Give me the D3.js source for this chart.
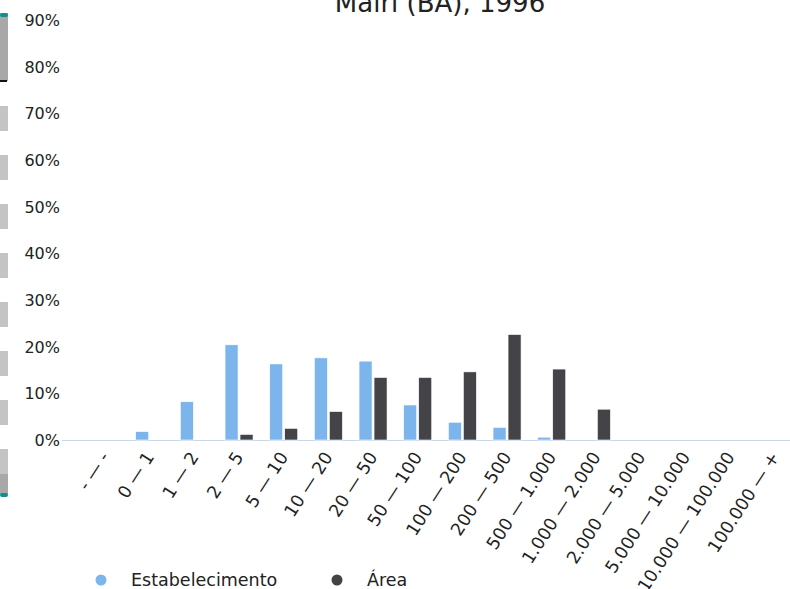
<!DOCTYPE html>
<html>
<head>
<meta charset="utf-8">
<script src="https://cdn.jsdelivr.net/npm/d3@7"></script>
<style>
  body { margin: 0; background: #fff; }
  svg { font-family: "DejaVu Sans", sans-serif; }
</style>
</head>
<body>
<div id="chart"></div>
<script>
var categories = ["- \u2014 -", "0 \u2014 1", "1 \u2014 2", "2 \u2014 5", "5 \u2014 10", "10 \u2014 20",
    "20 \u2014 50", "50 \u2014 100", "100 \u2014 200", "200 \u2014 500", "500 \u2014 1.000",
    "1.000 \u2014 2.000", "2.000 \u2014 5.000", "5.000 \u2014 10.000", "10.000 \u2014 100.000",
    "100.000 \u2014 +"];
var seriesNames = ["Estabelecimento", "\u00c1rea"];
var estabelecimento = [0, 0.018, 0.082, 0.204, 0.163, 0.176, 0.169, 0.075, 0.038, 0.027, 0.006, 0, 0, 0, 0, 0];
var area = [0, 0, 0, 0.012, 0.025, 0.061, 0.134, 0.134, 0.146, 0.226, 0.152, 0.066, 0, 0, 0, 0];
var yTicks = [0, 0.1, 0.2, 0.3, 0.4, 0.5, 0.6, 0.7, 0.8, 0.9];
var colors = ["#7cb5ec", "#434348"];

var width = 790, height = 589;

var svg = d3.select("#chart").append("svg")
    .attr("width", width)
    .attr("height", height);

// title (cut at the top like the original)
svg.append("text")
    .attr("x", 440)
    .attr("y", 12)
    .attr("text-anchor", "middle")
    .style("font-size", "26px")
    .style("fill", "#222")
    .text("Mairi (BA), 1996");

// left scrollbar remnant
var bar = svg.append("g").attr("class", "scroll");
bar.append("rect").attr("x", 0).attr("y", 13).attr("width", 8).attr("height", 68).attr("fill", "#a8a8a8");
bar.append("rect").attr("x", 0).attr("y", 13).attr("width", 8).attr("height", 4).attr("rx", 2).attr("fill", "#138c8c");
bar.append("rect").attr("x", 0).attr("y", 80).attr("width", 7).attr("height", 2).attr("fill", "#111");
[106, 155, 204, 253, 302, 351, 400, 449].forEach(function(t) {
    bar.append("rect").attr("x", 0).attr("y", t).attr("width", 8).attr("height", 25).attr("fill", "#c4c4c4");
});
bar.append("rect").attr("x", 0).attr("y", 474).attr("width", 8).attr("height", 20).attr("fill", "#a8a8a8");
bar.append("rect").attr("x", 0).attr("y", 493).attr("width", 8).attr("height", 4).attr("rx", 2).attr("fill", "#138c8c");

var x = d3.scaleBand()
    .domain(categories)
    .range([82.7, 797.4]);

var x1 = d3.scaleBand()
    .domain(seriesNames)
    .range([-14, 14])
    .paddingInner(2 / 15);

var y = d3.scaleLinear()
    .domain([0, 0.9])
    .range([440, 20]);

// y axis labels
svg.append("g")
    .attr("class", "axis axis--y")
    .attr("transform", "translate(60,0)")
    .call(d3.axisLeft(y).tickValues(yTicks).tickSize(0).tickPadding(0).tickFormat(d3.format(".0%")))
    .call(function(g) { g.select(".domain").remove(); })
    .selectAll("text")
    .attr("dy", "0.35em")
    .style("font-size", "16px")
    .style("font-family", "DejaVu Sans, sans-serif")
    .style("fill", "#222");

// x axis
var xAxis = svg.append("g")
    .attr("class", "axis axis--x")
    .attr("transform", "translate(0,440)")
    .call(d3.axisBottom(x).tickSize(0).tickPadding(0));
xAxis.select(".domain").remove();
xAxis.append("line")
    .attr("x1", 62).attr("x2", width)
    .attr("y1", 0.5).attr("y2", 0.5)
    .attr("stroke", "#ccd6eb");
xAxis.selectAll("text")
    .attr("y", 0)
    .attr("dy", 0)
    .attr("transform", "translate(5,17) rotate(-57)")
    .style("text-anchor", "end")
    .style("font-size", "17.5px")
    .style("font-family", "DejaVu Sans, sans-serif")
    .style("fill", "#222");

// bars
var rows = categories.map(function(c, i) {
    return {category: c, values: [estabelecimento[i], area[i]]};
});

var groups = svg.append("g").attr("class", "bars")
    .selectAll("g")
    .data(rows)
    .enter().append("g")
    .attr("transform", function(d) { return "translate(" + (x(d.category) + x.bandwidth() / 2) + ",0)"; });

groups.selectAll("rect")
    .data(function(d) { return d.values.map(function(v, k) { return {name: seriesNames[k], value: v, k: k}; }); })
    .enter().append("rect")
    .filter(function(d) { return d.value > 0; })
    .attr("x", function(d) { return x1(d.name); })
    .attr("y", function(d) { return y(d.value); })
    .attr("width", x1.bandwidth())
    .attr("height", function(d) { return y(0) - y(d.value); })
    .attr("fill", function(d) { return colors[d.k]; })
    .attr("stroke", "#fff")
    .attr("stroke-width", 0.6);

// legend
var legendX = [101, 337];
var legend = svg.append("g").attr("class", "legend");
seriesNames.forEach(function(name, k) {
    legend.append("circle")
        .attr("cx", legendX[k])
        .attr("cy", 580)
        .attr("r", 5.5)
        .attr("fill", colors[k]);
    legend.append("text")
        .attr("x", legendX[k] + 30)
        .attr("y", 586)
        .style("font-size", "17.5px")
        .style("fill", "#222")
        .text(name);
});
</script>
</body>
</html>
